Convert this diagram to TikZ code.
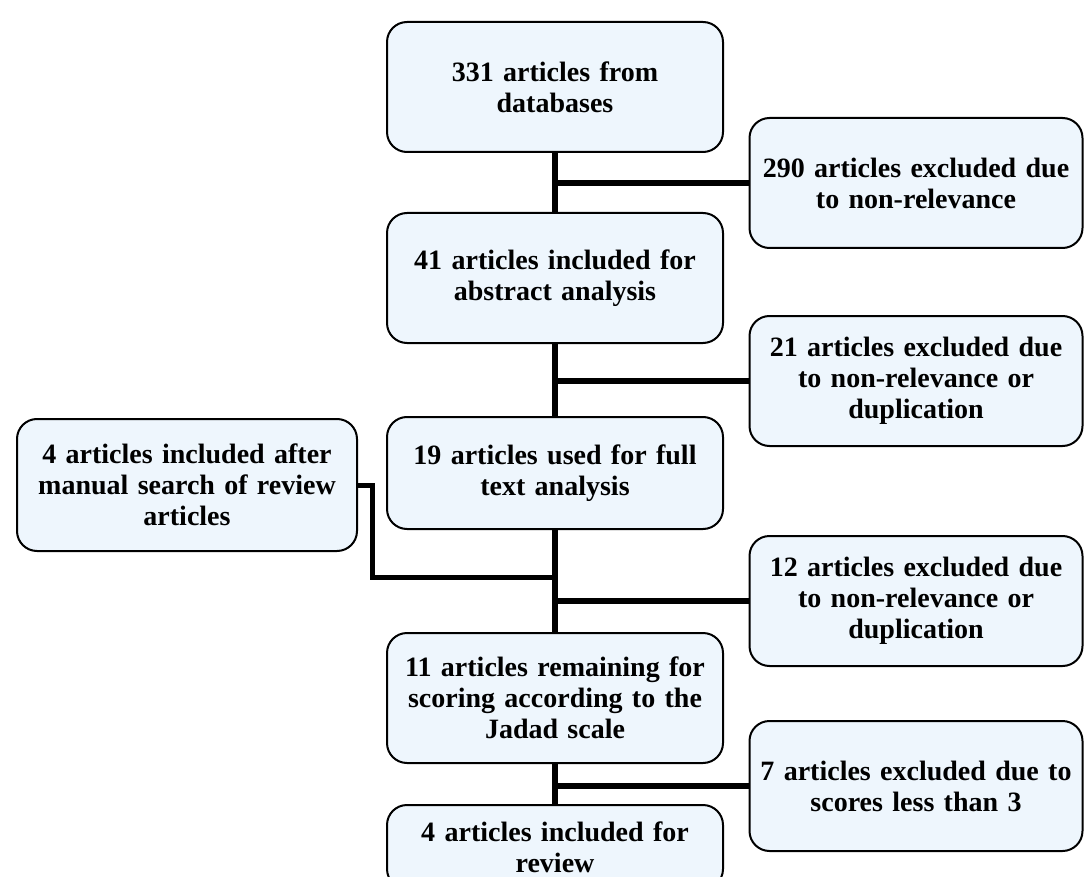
\documentclass[tikz,border=0pt]{standalone}
\usepackage{fontspec}
\setmainfont{Liberation Serif}
\usetikzlibrary{positioning, calc}
\definecolor{boxfill}{RGB}{238,246,253}

\tikzset{
  stepbox/.style={draw=black, line width=2pt, fill=boxfill, rounded corners=20pt,
    align=center, font=\bfseries\fontsize{28}{31}\selectfont, inner sep=0pt,
    text width=330pt, minimum width=336pt, minimum height=130pt},
  link/.style={line width=6pt},
}

\begin{document}
\begin{tikzpicture}[x=1pt, y=-1pt]
    \useasboundingbox (0,0) rectangle (1084,877);
    \clip (0,0) rectangle (1084,877);

    % Main column
    \node[stepbox] (db) at (555,87) {331 articles from\\databases};
    \node[stepbox] (abstr) at (555,278) {41 articles included for\\abstract analysis};
    \node[stepbox, minimum height=112pt] (fulltext) at (555,473) {19 articles used for full\\text analysis};
    \node[stepbox] (jadad) at (555,698) {11 articles remaining for\\scoring according to the\\Jadad scale};
    \node[stepbox, minimum height=84pt] (review) at (555,847) {4 articles included for\\review};

    % Excluded articles
    \node[stepbox, minimum width=333pt] (ex1) at (916,183) {290 articles excluded due\\to non-relevance};
    \node[stepbox, minimum width=333pt] (ex2) at (916,381) {21 articles excluded due\\to non-relevance or\\duplication};
    \node[stepbox, minimum width=333pt] (ex3) at (916,601) {12 articles excluded due\\to non-relevance or\\duplication};
    \node[stepbox, minimum width=333pt] (ex4) at (916,786) {7 articles excluded due to\\scores less than 3};

    % Manual search
    \node[stepbox, minimum width=340pt, minimum height=132pt] (manual) at (187,485) {4 articles included after\\manual search of review\\articles};

    % Vertical links
    \draw[link] (db) -- (abstr);
    \draw[link] (abstr) -- (fulltext);
    \draw[link] (fulltext) -- (jadad);
    \draw[link] (jadad) -- (review);

    % Side links
    \foreach \a/\b in {db/ex1, abstr/ex2, fulltext/ex3, jadad/ex4}
        \draw[link] (\a.south |- \b.west) -- (\b.west);

    \coordinate (mbend) at (372,577);
    \draw[line width=5pt] (manual.east) -| (mbend) -- (mbend -| fulltext.south);
\end{tikzpicture}
\end{document}
